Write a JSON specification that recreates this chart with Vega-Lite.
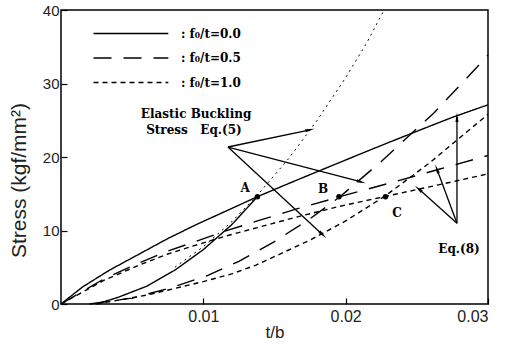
{
  "$schema": "https://vega.github.io/schema/vega-lite/v6.json",
  "width": 427,
  "height": 294,
  "autosize": "none",
  "padding": {"left": 61, "top": 10, "right": 17, "bottom": 42},
  "background": "white",
  "config": {
    "view": {"stroke": "black", "strokeWidth": 1.5},
    "axis": {
      "domain": false, "grid": false, "tickColor": "black", "tickSize": -6, "tickWidth": 1.2,
      "labelFont": "Liberation Sans", "labelFontSize": 15, "labelColor": "#222",
      "titleFont": "Liberation Sans", "titleFontWeight": "normal", "titleColor": "#222"
    }
  },
  "datasets": {
    "curves": [
      {"x": 0, "y": 0, "f": ": f₀/t=0.0", "c": "eq8"},
      {"x": 0.0015, "y": 2.3, "f": ": f₀/t=0.0", "c": "eq8"},
      {"x": 0.0034, "y": 4.6, "f": ": f₀/t=0.0", "c": "eq8"},
      {"x": 0.0055, "y": 6.8, "f": ": f₀/t=0.0", "c": "eq8"},
      {"x": 0.0075, "y": 8.9, "f": ": f₀/t=0.0", "c": "eq8"},
      {"x": 0.0095, "y": 10.8, "f": ": f₀/t=0.0", "c": "eq8"},
      {"x": 0.0112, "y": 12.3, "f": ": f₀/t=0.0", "c": "eq8"},
      {"x": 0.0138, "y": 14.6, "f": ": f₀/t=0.0", "c": "eq8"},
      {"x": 0.016, "y": 16.4, "f": ": f₀/t=0.0", "c": "eq8"},
      {"x": 0.0185, "y": 18.4, "f": ": f₀/t=0.0", "c": "eq8"},
      {"x": 0.0219, "y": 21.1, "f": ": f₀/t=0.0", "c": "eq8"},
      {"x": 0.025, "y": 23.5, "f": ": f₀/t=0.0", "c": "eq8"},
      {"x": 0.0275, "y": 25.4, "f": ": f₀/t=0.0", "c": "eq8"},
      {"x": 0.03, "y": 27.1, "f": ": f₀/t=0.0", "c": "eq8"},
      {"x": 0.0025, "y": 0, "f": ": f₀/t=0.0", "c": "bk"},
      {"x": 0.004, "y": 0.9, "f": ": f₀/t=0.0", "c": "bk"},
      {"x": 0.006, "y": 2.4, "f": ": f₀/t=0.0", "c": "bk"},
      {"x": 0.008, "y": 4.6, "f": ": f₀/t=0.0", "c": "bk"},
      {"x": 0.010, "y": 7.4, "f": ": f₀/t=0.0", "c": "bk"},
      {"x": 0.012, "y": 10.8, "f": ": f₀/t=0.0", "c": "bk"},
      {"x": 0.0138, "y": 14.6, "f": ": f₀/t=0.0", "c": "bk"},
      {"x": 0, "y": 0, "f": ": f₀/t=0.5", "c": "eq8"},
      {"x": 0.003, "y": 3.4, "f": ": f₀/t=0.5", "c": "eq8"},
      {"x": 0.0055, "y": 5.6, "f": ": f₀/t=0.5", "c": "eq8"},
      {"x": 0.0075, "y": 7.2, "f": ": f₀/t=0.5", "c": "eq8"},
      {"x": 0.0093, "y": 8.4, "f": ": f₀/t=0.5", "c": "eq8"},
      {"x": 0.0115, "y": 9.9, "f": ": f₀/t=0.5", "c": "eq8"},
      {"x": 0.0138, "y": 11.3, "f": ": f₀/t=0.5", "c": "eq8"},
      {"x": 0.0165, "y": 12.9, "f": ": f₀/t=0.5", "c": "eq8"},
      {"x": 0.0196, "y": 14.6, "f": ": f₀/t=0.5", "c": "eq8"},
      {"x": 0.023, "y": 16.4, "f": ": f₀/t=0.5", "c": "eq8"},
      {"x": 0.0265, "y": 18.3, "f": ": f₀/t=0.5", "c": "eq8"},
      {"x": 0.03, "y": 20.2, "f": ": f₀/t=0.5", "c": "eq8"},
      {"x": 0.002, "y": 0, "f": ": f₀/t=0.5", "c": "bk"},
      {"x": 0.005, "y": 0.8, "f": ": f₀/t=0.5", "c": "bk"},
      {"x": 0.0077, "y": 2.2, "f": ": f₀/t=0.5", "c": "bk"},
      {"x": 0.0102, "y": 3.8, "f": ": f₀/t=0.5", "c": "bk"},
      {"x": 0.0125, "y": 5.8, "f": ": f₀/t=0.5", "c": "bk"},
      {"x": 0.015, "y": 8.5, "f": ": f₀/t=0.5", "c": "bk"},
      {"x": 0.0175, "y": 11.6, "f": ": f₀/t=0.5", "c": "bk"},
      {"x": 0.0196, "y": 14.6, "f": ": f₀/t=0.5", "c": "bk"},
      {"x": 0.0225, "y": 19.4, "f": ": f₀/t=0.5", "c": "bk"},
      {"x": 0.0262, "y": 26.0, "f": ": f₀/t=0.5", "c": "bk"},
      {"x": 0.0297, "y": 33.2, "f": ": f₀/t=0.5", "c": "bk"},
      {"x": 0.03, "y": 33.9, "f": ": f₀/t=0.5", "c": "bk"},
      {"x": 0, "y": 0, "f": ": f₀/t=1.0", "c": "eq8"},
      {"x": 0.003, "y": 3.2, "f": ": f₀/t=1.0", "c": "eq8"},
      {"x": 0.0055, "y": 5.3, "f": ": f₀/t=1.0", "c": "eq8"},
      {"x": 0.0075, "y": 6.8, "f": ": f₀/t=1.0", "c": "eq8"},
      {"x": 0.0093, "y": 7.9, "f": ": f₀/t=1.0", "c": "eq8"},
      {"x": 0.0115, "y": 9.2, "f": ": f₀/t=1.0", "c": "eq8"},
      {"x": 0.0138, "y": 10.4, "f": ": f₀/t=1.0", "c": "eq8"},
      {"x": 0.0165, "y": 11.8, "f": ": f₀/t=1.0", "c": "eq8"},
      {"x": 0.0196, "y": 13.3, "f": ": f₀/t=1.0", "c": "eq8"},
      {"x": 0.0227, "y": 14.6, "f": ": f₀/t=1.0", "c": "eq8"},
      {"x": 0.0265, "y": 16.2, "f": ": f₀/t=1.0", "c": "eq8"},
      {"x": 0.03, "y": 17.7, "f": ": f₀/t=1.0", "c": "eq8"},
      {"x": 0.0025, "y": 0, "f": ": f₀/t=1.0", "c": "bk"},
      {"x": 0.006, "y": 1.2, "f": ": f₀/t=1.0", "c": "bk"},
      {"x": 0.0099, "y": 3.0, "f": ": f₀/t=1.0", "c": "bk"},
      {"x": 0.012, "y": 4.1, "f": ": f₀/t=1.0", "c": "bk"},
      {"x": 0.0137, "y": 5.3, "f": ": f₀/t=1.0", "c": "bk"},
      {"x": 0.0155, "y": 6.9, "f": ": f₀/t=1.0", "c": "bk"},
      {"x": 0.0175, "y": 8.7, "f": ": f₀/t=1.0", "c": "bk"},
      {"x": 0.02, "y": 11.3, "f": ": f₀/t=1.0", "c": "bk"},
      {"x": 0.0227, "y": 14.6, "f": ": f₀/t=1.0", "c": "bk"},
      {"x": 0.0259, "y": 19.2, "f": ": f₀/t=1.0", "c": "bk"},
      {"x": 0.029, "y": 24.2, "f": ": f₀/t=1.0", "c": "bk"},
      {"x": 0.03, "y": 25.8, "f": ": f₀/t=1.0", "c": "bk"}
    ],
    "buckling": [
      {"x": 0.008, "y": 5.0},
      {"x": 0.010, "y": 7.8},
      {"x": 0.012, "y": 11.2},
      {"x": 0.0138, "y": 14.8},
      {"x": 0.016, "y": 19.8},
      {"x": 0.018, "y": 25.0},
      {"x": 0.020, "y": 30.8},
      {"x": 0.0215, "y": 35.6},
      {"x": 0.0227, "y": 40}
    ],
    "arrows": [
      {"x": 0.01173, "y": 21.36, "x2": 0.0175, "y2": 23.7},
      {"x": 0.01173, "y": 21.36, "x2": 0.0211, "y2": 16.6},
      {"x": 0.01173, "y": 21.36, "x2": 0.0184, "y2": 9.4},
      {"x": 0.02782, "y": 11.0, "x2": 0.02782, "y2": 25.4},
      {"x": 0.02782, "y": 11.0, "x2": 0.0264, "y2": 18.4},
      {"x": 0.02782, "y": 11.0, "x2": 0.0251, "y2": 15.7}
    ],
    "points": [
      {"x": 0.0138, "y": 14.6, "label": "A"},
      {"x": 0.01953, "y": 14.6, "label": "B"},
      {"x": 0.0228, "y": 14.6, "label": "C"}
    ],
    "notes": [
      {"x": 0.00949, "y": 25.85, "text": "Elastic Buckling"},
      {"x": 0.00934, "y": 23.7, "text": "Stress\u00a0\u00a0\u00a0Eq.(5)"},
      {"x": 0.02796, "y": 7.48, "text": "Eq.(8)"},
      {"x": 0.01293, "y": 15.8, "text": "A"},
      {"x": 0.01841, "y": 15.65, "text": "B"},
      {"x": 0.02361, "y": 12.38, "text": "C"}
    ]
  },
  "layer": [
    {
      "data": {"name": "curves"},
      "mark": {"type": "line", "color": "black", "strokeWidth": 1.4},
      "encoding": {
        "x": {"field": "x", "type": "quantitative", "scale": {"domain": [0, 0.03], "nice": false},
              "axis": {"values": [0.01, 0.02, 0.03], "format": ".2f", "title": "t/b", "titleFontSize": 17, "labelFontSize": 16, "labelPadding": 10, "titlePadding": 0}},
        "y": {"field": "y", "type": "quantitative", "scale": {"domain": [0, 40], "nice": false},
              "axis": {"values": [0, 10, 20, 30, 40], "title": "Stress (kgf/mm²)", "titleFontSize": 21, "labelPadding": 8,
                       "titleX": -42, "titleY": 170, "titleAngle": -90, "titleAlign": "center", "titleBaseline": "middle"}},
        "strokeDash": {"field": "f", "type": "nominal",
          "scale": {"domain": [": f₀/t=0.0", ": f₀/t=0.5", ": f₀/t=1.0"], "range": [[1, 0], [18, 12], [5, 4]]},
          "legend": {"title": null, "orient": "none", "legendX": 22, "legendY": 13, "symbolType": "M0,0H8", "symbolSize": 350,
                     "symbolStrokeWidth": 1.4, "symbolStrokeColor": "black", "labelFont": "DejaVu Serif", "labelFontWeight": "bold",
                     "labelFontSize": 12, "labelColor": "black", "rowPadding": 7.5, "labelOffset": 77}},
        "detail": {"field": "c"}
      }
    },
    {
      "data": {"name": "buckling"},
      "mark": {"type": "line", "color": "black", "strokeWidth": 1, "strokeDash": [2, 4]},
      "encoding": {"x": {"field": "x", "type": "quantitative"}, "y": {"field": "y", "type": "quantitative"}}
    },
    {
      "data": {"name": "arrows"},
      "mark": {"type": "rule", "color": "black", "strokeWidth": 1.3},
      "encoding": {"x": {"field": "x", "type": "quantitative"}, "y": {"field": "y", "type": "quantitative"},
                   "x2": {"field": "x2"}, "y2": {"field": "y2"}}
    },
    {
      "data": {"name": "arrows"},
      "transform": [{"calculate": "atan2((datum.x2 - datum.x) * 427 / 0.03, (datum.y2 - datum.y) * 294 / 40) * 180 / PI", "as": "ang"}],
      "mark": {"type": "point", "shape": "M0,-1L0.32,1L-0.32,1Z", "filled": true, "color": "black", "size": 90, "opacity": 1},
      "encoding": {"x": {"field": "x2", "type": "quantitative"}, "y": {"field": "y2", "type": "quantitative"},
                   "angle": {"field": "ang", "type": "quantitative", "scale": null}}
    },
    {
      "data": {"name": "points"},
      "mark": {"type": "point", "filled": true, "color": "black", "size": 30, "opacity": 1},
      "encoding": {"x": {"field": "x", "type": "quantitative"}, "y": {"field": "y", "type": "quantitative"}}
    },
    {
      "data": {"name": "notes"},
      "mark": {"type": "text", "font": "DejaVu Serif", "fontWeight": "bold", "fontSize": 12, "color": "black", "align": "center", "baseline": "middle"},
      "encoding": {"x": {"field": "x", "type": "quantitative"}, "y": {"field": "y", "type": "quantitative"}, "text": {"field": "text"}}
    }
  ]
}
